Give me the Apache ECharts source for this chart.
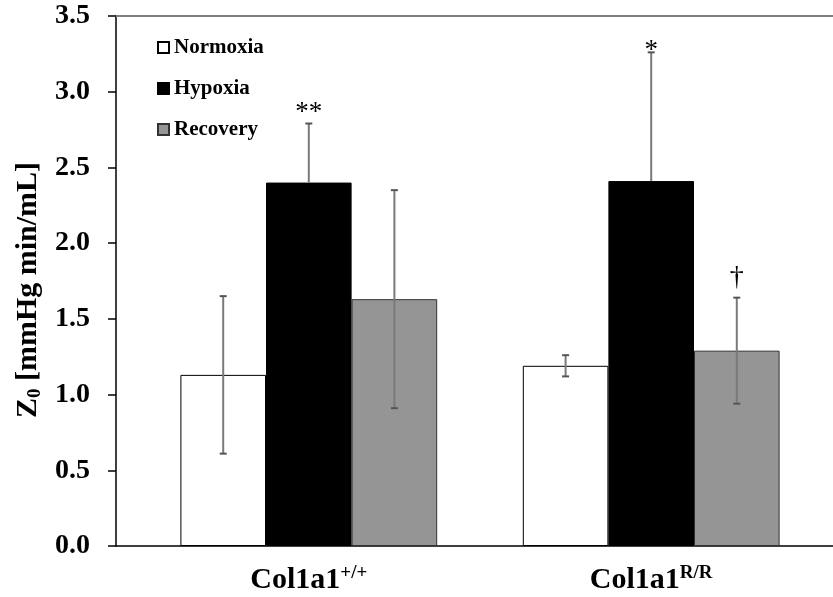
<!DOCTYPE html>
<html>
<head>
<meta charset="utf-8">
<script src="https://cdn.jsdelivr.net/npm/echarts@6/dist/echarts.min.js"></script>
<style>
html,body{margin:0;padding:0;background:#fff;}
#chart{width:833px;height:597px;}
</style>
</head>
<body>
<div id="chart"></div>
<script>
// ---- data ----
const categories = ['Col1a1', 'Col1a1'];
const categorySup = ['+/+', 'R/R'];
const seriesNames = ['Normoxia', 'Hypoxia', 'Recovery'];
const normoxia = [1.13, 1.19];
const normoxiaErr = [0.52, 0.07];
const hypoxia = [2.40, 2.41];
const hypoxiaErr = [0.39, 0.85];
const recovery = [1.63, 1.29];
const recoveryErr = [0.72, 0.35];
const normoxiaMark = ['', ''];
const hypoxiaMark = ['**', '*'];
const recoveryMark = ['', '\u2020'];
const yTicks = [0, 0.5, 1.0, 1.5, 2.0, 2.5, 3.0, 3.5];

const values = [normoxia, hypoxia, recovery];
const errs = [normoxiaErr, hypoxiaErr, recoveryErr];
const marks = [normoxiaMark, hypoxiaMark, recoveryMark];
const showLower = [true, false, true];
const fills = ['#ffffff', '#000000', '#959595'];
const borders = ['#000000', '#000000', '#333333'];
const SERIF = '"Liberation Serif", "Times New Roman", serif';
const CAT_GAP = 0.25;
// text style for significance marks: [fontSize, gap between cap and text box bottom]
const markStyle = { '**': [27, -3], '*': [27, -12], '\u2020': [28, 6] };

const chart = echarts.init(document.getElementById('chart'));

const barSeries = seriesNames.map((name, k) => ({
  name: name,
  type: 'bar',
  xAxisIndex: 1,
  yAxisIndex: 1,
  data: values[k],
  barGap: '0%',
  barCategoryGap: (CAT_GAP * 100) + '%',
  itemStyle: { color: fills[k], borderColor: borders[k], borderWidth: 1 },
  emphasis: { disabled: true },
  z: 2
}));

const errSeries = seriesNames.map((name, k) => ({
  type: 'custom',
  xAxisIndex: 1,
  yAxisIndex: 1,
  z: 5,
  silent: true,
  data: values[k].map((v, i) => [i, v, errs[k][i]]),
  encode: { x: 0, y: 1 },
  renderItem: function (params, api) {
    const cat = api.value(0);
    const v = api.value(1);
    const e = api.value(2);
    const mark = marks[k][params.dataIndex];
    const band = api.size([1, 0])[0];
    const bw = band * (1 - CAT_GAP) / 3;
    const c = api.coord([cat, v]);
    const x = c[0] + (k - 1) * bw;
    const top = api.coord([cat, v + e])[1];
    const bot = showLower[k] ? api.coord([cat, v - e])[1] : c[1];
    const children = [
      { type: 'line', shape: { x1: x, y1: top, x2: x, y2: bot }, style: { stroke: '#7a7a7a', lineWidth: 2 } },
      { type: 'line', shape: { x1: x - 3.5, y1: top, x2: x + 3.5, y2: top }, style: { stroke: '#555', lineWidth: 2 } }
    ];
    if (showLower[k]) {
      children.push({ type: 'line', shape: { x1: x - 3.5, y1: bot, x2: x + 3.5, y2: bot }, style: { stroke: '#555', lineWidth: 2 } });
    }
    if (mark) {
      const ms = markStyle[mark];
      children.push({
        type: 'text',
        style: {
          text: mark, x: x, y: top - ms[1],
          align: 'center', verticalAlign: 'bottom',
          fontFamily: SERIF, fontSize: ms[0], fill: '#000'
        }
      });
    }
    return { type: 'group', children: children };
  }
}));

const option = {
  animation: false,
  backgroundColor: '#ffffff',
  grid: [
    { left: 116, right: 0, top: 16, bottom: 51 },
    { left: 137.6, right: 10.6, top: 16, bottom: 51 }
  ],
  legend: {
    orient: 'vertical',
    left: 157,
    top: 35.5,
    padding: 0,
    itemWidth: 11,
    itemHeight: 11,
    itemGap: 17,
    icon: 'rect',
    data: seriesNames,
    selectedMode: false,
    textStyle: { fontFamily: SERIF, fontWeight: 'bold', fontSize: 21, lineHeight: 21, color: '#000', padding: [3, 0, 0, 0] }
  },
  xAxis: [
    {
      type: 'category', gridIndex: 0, data: categories,
      axisLine: { show: true, lineStyle: { color: '#000', width: 1.5 } },
      axisTick: { show: false }, axisLabel: { show: false }
    },
    {
      type: 'category', gridIndex: 1, data: categories,
      axisLine: { show: false }, axisTick: { show: false },
      axisLabel: {
        margin: 18,
        formatter: function (val, idx) { return '{b|' + val + '}{s|' + categorySup[idx] + '}'; },
        rich: {
          b: { fontFamily: SERIF, fontWeight: 'bold', fontSize: 30, color: '#000', lineHeight: 32 },
          s: { fontFamily: SERIF, fontWeight: 'bold', fontSize: 19, color: '#000', verticalAlign: 'top', lineHeight: 32, padding: [0, 0, 12, 0] }
        }
      }
    },
    {
      type: 'category', gridIndex: 0, position: 'top', data: categories,
      axisLine: { show: true, lineStyle: { color: '#808080', width: 2 } },
      axisTick: { show: false }, axisLabel: { show: false }
    }
  ],
  yAxis: [
    {
      type: 'value', gridIndex: 0, min: 0, max: 3.5, interval: 0.5,
      axisLine: { show: true, lineStyle: { color: '#000', width: 1.5 } },
      axisTick: { show: true, length: 8, lineStyle: { color: '#000', width: 1.5 } },
      splitLine: { show: false },
      axisLabel: {
        margin: 26, fontFamily: SERIF, fontWeight: 'bold', fontSize: 28, color: '#000',
        formatter: function (v) { return yTicks.indexOf(v) >= 0 ? v.toFixed(1) : ''; }
      },
      name: '{z|Z}{sub|0}{t| [mmHg min/mL]}',
      nameLocation: 'middle',
      nameGap: 71,
      nameRotate: 90,
      nameTextStyle: {
        padding: [0, 18, 0, 0],
        rich: {
          z: { fontFamily: SERIF, fontWeight: 'bold', fontSize: 30, color: '#000', lineHeight: 32 },
          sub: { fontFamily: SERIF, fontWeight: 'bold', fontSize: 19, color: '#000', verticalAlign: 'bottom', lineHeight: 32, padding: [10, 0, 0, 0] },
          t: { fontFamily: SERIF, fontWeight: 'bold', fontSize: 30, color: '#000', lineHeight: 32 }
        }
      }
    },
    { type: 'value', gridIndex: 1, min: 0, max: 3.5, interval: 0.5, show: false }
  ],
  series: barSeries.concat(errSeries)
};
chart.setOption(option);
</script>
</body>
</html>
